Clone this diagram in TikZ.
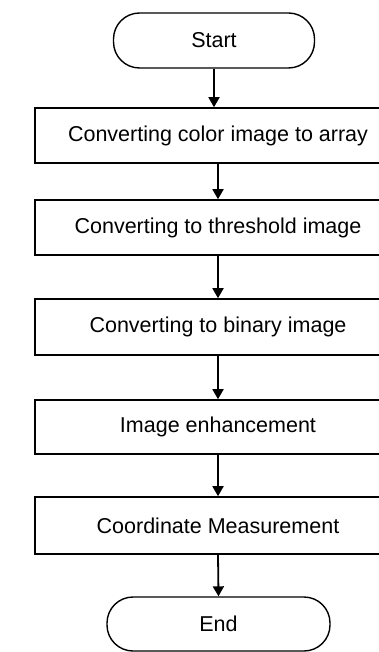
\documentclass[tikz,border=0pt]{standalone}
\usepackage{fontspec}
\setmainfont{Liberation Sans}
\usetikzlibrary{arrows.meta}

\tikzset{
    stepbox/.style={draw, line width=1.6pt, minimum width=366pt, minimum height=55pt, inner sep=0pt},
    termbox/.style={draw, line width=1.4pt, rounded corners=26pt, minimum height=55pt, inner sep=0pt},
    flowarrow/.style={line width=1.8pt, -{Triangle[width=11pt,length=10pt]}}
}

\begin{document}
\begin{tikzpicture}[x=1pt, y=-1pt, font=\fontsize{21.5}{26}\selectfont]

% page frame, boxes run past the right edge
\path[use as bounding box, clip] (0,0) rectangle (379,652);

\node[termbox, minimum width=201pt] (start) at (214,40.5) {Start};

\node[stepbox] (colorarr) at (218,135.5) {Converting color image to array};
\node[stepbox] (thresh) at (218,227.5) {Converting to threshold image};
\node[stepbox, minimum height=56pt] (binary) at (218,327) {Converting to binary image};
\node[stepbox, minimum height=54pt] (enhance) at (218,427) {Image enhancement};
\node[stepbox, minimum height=57pt] (measure) at (218,525.5) {Coordinate Measurement};

\node[termbox, minimum width=223pt, minimum height=54pt] (end) at (218.5,624) {End};

\draw[flowarrow] (start.south) -- (start.south |- colorarr.north);
\draw[flowarrow] (colorarr.south) -- (thresh.north);
\draw[flowarrow] (thresh.south) -- (binary.north);
\draw[flowarrow] (binary.south) -- (enhance.north);
\draw[flowarrow] (enhance.south) -- (measure.north);
\draw[flowarrow] (measure.south) -- (end.north);

\end{tikzpicture}
\end{document}
